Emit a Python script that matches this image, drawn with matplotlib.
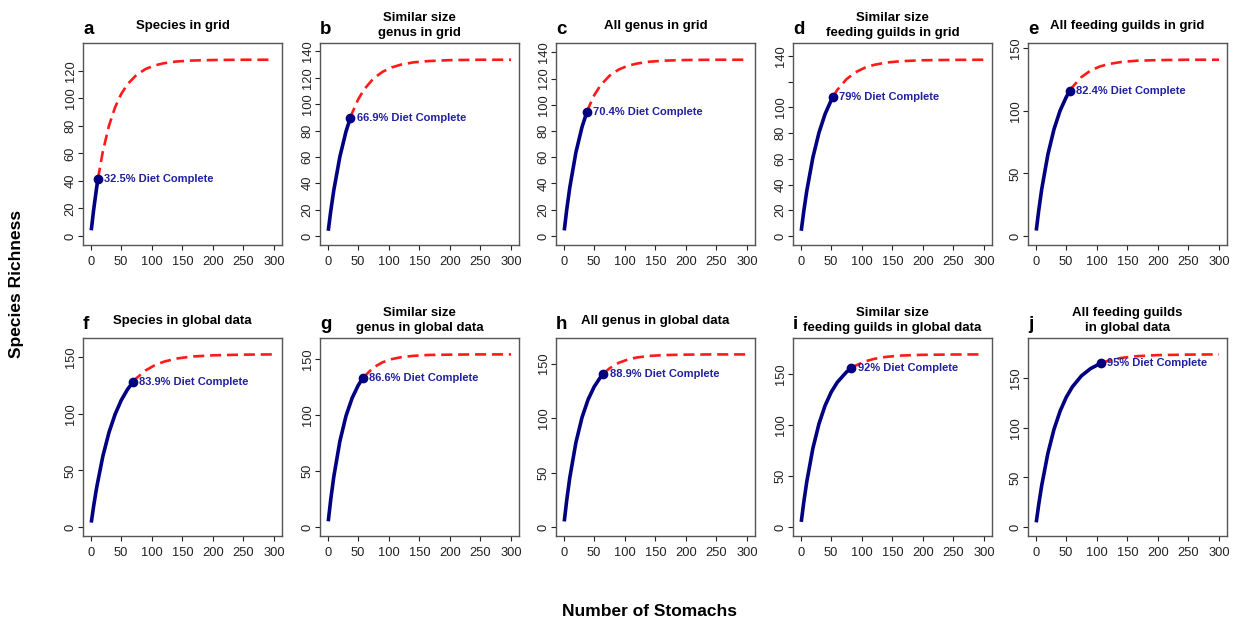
import matplotlib
matplotlib.use("Agg")
import matplotlib.pyplot as plt

plt.rcParams.update({"font.family": ["Liberation Sans", "DejaVu Sans"]})

NAVY, RED, TXT = "#000080", "#FF1A1A", "#2020A0"

# number of stomachs at which the accumulation curves were read
X_GRID = [1, 5, 10, 20, 30, 40, 50, 60, 75, 90, 105, 120, 140, 165, 200, 250, 300]

rich_a = [4.1, 19.3, 35.7, 61.5, 80.1, 93.5, 103.1, 110.1, 117.0, 121.3, 123.9, 125.5, 126.7, 127.4, 127.8, 128.0, 128.0]
rich_b = [3.9, 18.6, 34.5, 60.1, 79.2, 93.2, 103.7, 111.4, 119.5, 124.6, 127.9, 130.0, 131.7, 132.7, 133.4, 133.7, 133.7]
rich_c = [4.2, 19.9, 36.8, 63.6, 83.0, 97.1, 107.3, 114.7, 122.2, 126.9, 129.8, 131.5, 132.9, 133.7, 134.2, 134.4, 134.4]
rich_d = [4.0, 18.8, 35.0, 61.0, 80.4, 94.9, 105.6, 113.7, 122.0, 127.4, 130.9, 133.1, 134.9, 136.0, 136.7, 137.0, 137.1]
rich_e = [4.3, 20.2, 37.6, 65.1, 85.3, 100.2, 111.0, 119.0, 127.1, 132.3, 135.5, 137.5, 139.1, 140.1, 140.6, 140.9, 140.9]
rich_f = [4.0, 18.9, 35.4, 62.6, 83.5, 99.5, 111.8, 121.2, 131.4, 138.2, 142.8, 145.9, 148.6, 150.4, 151.5, 152.1, 152.3]
rich_g = [5.2, 24.4, 44.9, 76.8, 99.4, 115.4, 126.8, 134.8, 142.8, 147.5, 150.3, 152.0, 153.2, 154.0, 154.3, 154.5, 154.5]
rich_h = [5.2, 24.5, 45.2, 77.4, 100.5, 117.0, 128.8, 137.3, 145.6, 150.7, 153.7, 155.6, 157.0, 157.8, 158.2, 158.4, 158.4]
rich_i = [5.1, 23.9, 44.3, 77.0, 101.1, 118.9, 132.0, 141.7, 151.7, 158.0, 162.0, 164.5, 166.5, 167.8, 168.5, 168.8, 168.9]
rich_j = [4.8, 22.6, 42.2, 74.2, 98.4, 116.7, 130.6, 141.1, 152.3, 159.6, 164.4, 167.6, 170.3, 172.0, 173.1, 173.6, 173.8]
CURVES = [rich_a, rich_b, rich_c, rich_d, rich_e, rich_f, rich_g, rich_h, rich_i, rich_j]

# observed sample size and richness (end of the solid part)
OBS_N = [12, 37, 38, 53, 56, 69, 58, 65, 83, 107]
OBS_Y = [41.6, 89.4, 94.6, 108.3, 116.1, 127.8, 133.8, 140.8, 155.4, 165.1]
PCT = ["32.5%", "66.9%", "70.4%", "79%", "82.4%", "83.9%", "86.6%", "88.9%", "92%", "95%"]

LETTERS = list("abcdefghij")
TITLES = ["Species in grid", "Similar size\ngenus in grid", "All genus in grid",
          "Similar size\nfeeding guilds in grid", "All feeding guilds in grid",
          "Species in global data", "Similar size\ngenus in global data", "All genus in global data",
          "Similar size\nfeeding guilds in global data", "All feeding guilds\nin global data"]
YTICKS = [range(0, 121, 20), range(0, 141, 20), range(0, 141, 20), range(0, 141, 20)] + [range(0, 151, 50)] * 6
X_TICKS = [0, 50, 100, 150, 200, 250, 300]

W, H = 1234, 621
fig = plt.figure(figsize=(W / 100, H / 100), dpi=100)
lefts = [83, 320, 556, 793, 1028]
rows = [(43, 245), (338, 536)]

for k in range(10):
    top, bot = rows[k // 5]
    ax = fig.add_axes([lefts[k % 5] / W, 1 - bot / H, 199 / W, (bot - top) / H])
    y = CURVES[k]; n = OBS_N[k]; yo = OBS_Y[k]
    xs = [x for x in X_GRID if x < n] + [n]
    ys = [v for x, v in zip(X_GRID, y) if x < n] + [yo]
    xd = [n] + [x for x in X_GRID if x > n]
    yd = [yo] + [v for x, v in zip(X_GRID, y) if x > n]
    ax.plot(xd, yd, color=RED, lw=1.9, dashes=(4.2, 2.2), zorder=2)
    ax.plot(xs, ys, color=NAVY, lw=2.6, solid_capstyle="butt", zorder=3)
    ax.plot([n], [yo], "o", color=NAVY, ms=6, zorder=4)
    ax.annotate(PCT[k] + " Diet Complete", (n, yo), xytext=(4.5, 0), textcoords="offset points",
                va="center", ha="left", fontsize=8, fontweight="bold", color=TXT)

    top_y = max(y) * 1.095
    ax.set_ylim(-0.047 * top_y, top_y)
    ax.set_xlim(-12.5, 313)
    ax.set_xticks(X_TICKS)
    yt = list(YTICKS[k])
    ax.set_yticks(yt)
    ax.set_yticklabels(["" if (k == 3 and t == 120) else str(t) for t in yt],
                       rotation=90, va="center")
    ax.tick_params(labelsize=9.3, length=3.5, width=0.8, pad=1.0, colors="#222222")
    ax.tick_params(axis="x", pad=4.5)
    for s in ax.spines.values():
        s.set_color("#555555"); s.set_linewidth(1.0)

    ax.annotate(TITLES[k], (0.5, 1), xycoords="axes fraction", xytext=(0, 12.5),
                textcoords="offset points", ha="center", va="center",
                fontsize=9.5, fontweight="bold", linespacing=1.3)
    ax.annotate(LETTERS[k], (0, 1), xycoords="axes fraction", xytext=(0, 3.5),
                textcoords="offset points", ha="left", va="bottom",
                fontsize=13.5, fontweight="bold")

fig.text(17 / W, 1 - 284 / H, "Species Richness", rotation=90, ha="center", va="center",
         fontsize=12.5, fontweight="bold")
fig.text(649 / W, 1 - 612 / H, "Number of Stomachs", ha="center", va="center",
         fontsize=12.5, fontweight="bold")

fig.savefig("out.png", dpi=100, facecolor="white")
